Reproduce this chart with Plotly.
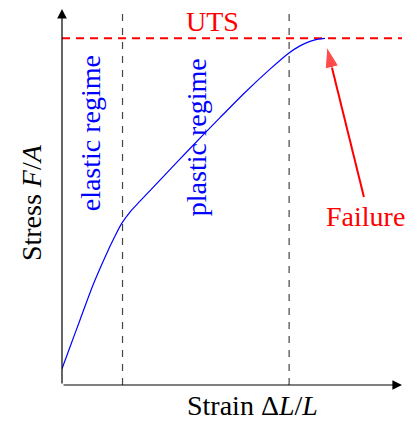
import plotly.graph_objects as go

# Stress-strain curve (arbitrary units)
strain = [0.0, 0.235, 0.529, 0.912, 1.265, 1.559, 1.765, 2.0, 2.294, 2.882,
          3.765, 4.647, 5.382, 6.118, 6.676, 7.0, 7.294, 7.529, 7.735]
stress = [0.43, 1.01, 1.73, 2.66, 3.40, 3.96, 4.31, 4.60, 4.89, 5.45,
          6.29, 7.11, 7.78, 8.40, 8.83, 9.02, 9.14, 9.20, 9.22]

uts = 9.22
regime_bounds = [1.78, 6.68]
axis_max = [10.0, 10.0]
failure_tail = [8.88, 5.0]
failure_tip = [7.79, 8.99]

FONT = "Liberation Serif"
FS = 28

fig = go.Figure()

# dashed vertical lines
for xb in regime_bounds:
    fig.add_trace(go.Scatter(x=[xb, xb], y=[0, 9.92], mode="lines",
                             line=dict(color="#444444", width=1.2, dash="7px,7px"),
                             hoverinfo="skip", showlegend=False))

# UTS line
fig.add_trace(go.Scatter(x=[0, axis_max[0]], y=[uts, uts], mode="lines",
                         line=dict(color="#ff0000", width=2, dash="8px,6px"),
                         hoverinfo="skip", showlegend=False))

# curve
fig.add_trace(go.Scatter(x=strain, y=stress, mode="lines",
                         line=dict(color="#0000ff", width=1.2, shape="spline", smoothing=0.8),
                         hoverinfo="skip", showlegend=False))

# axes with arrows (annotation arrows)
for tip in ((axis_max[0], 0), (0, axis_max[1])):
    fig.add_annotation(x=tip[0], y=tip[1], ax=0, ay=0, xref="x", yref="y",
                       axref="x", ayref="y", text="", showarrow=True,
                       arrowhead=2, arrowsize=1.6, arrowwidth=1.2, arrowcolor="black")

# failure arrow
fig.add_trace(go.Scatter(x=[failure_tail[0], failure_tip[0]], y=[failure_tail[1], failure_tip[1]],
                         mode="lines+markers",
                         line=dict(color="#ff0000", width=2),
                         marker=dict(symbol="arrow", size=[0, 22], color="#ff0000", angleref="previous"),
                         hoverinfo="skip", showlegend=False))

def txt(x, y, s, color="black", angle=0, ref="data"):
    r = "paper" if ref == "paper" else None
    fig.add_annotation(x=x, y=y, xref=r or "x", yref=r or "y", text=s, showarrow=False,
                       xanchor="center", yanchor="middle",
                       textangle=angle, font=dict(family=FONT, size=FS, color=color))

txt(4.44, 9.68, "UTS", "#ff0000")
txt(8.93, 4.47, "Failure", "#ff0000")
txt(0.83, 6.70, "elastic regime", "#0000ff", -90)
txt(3.98, 6.60, "plastic regime", "#0000ff", -90)
txt(-0.091, 0.484, "Stress <i>F</i>/<i>A</i>", "black", -90, ref="paper")
txt(0.559, -0.054, "Strain Δ<i>L</i>/<i>L</i>", "black", ref="paper")

fig.update_layout(
    width=417, height=421,
    margin=dict(l=62, r=15, t=9, b=36),
    paper_bgcolor="white", plot_bgcolor="white",
    xaxis=dict(range=[0, 10], visible=False, fixedrange=True),
    yaxis=dict(range=[0, 10], visible=False, fixedrange=True),
    showlegend=False,
)

fig.write_html("out.html", post_script="document.body.style.margin='0px';",
               config={"displayModeBar": False})
